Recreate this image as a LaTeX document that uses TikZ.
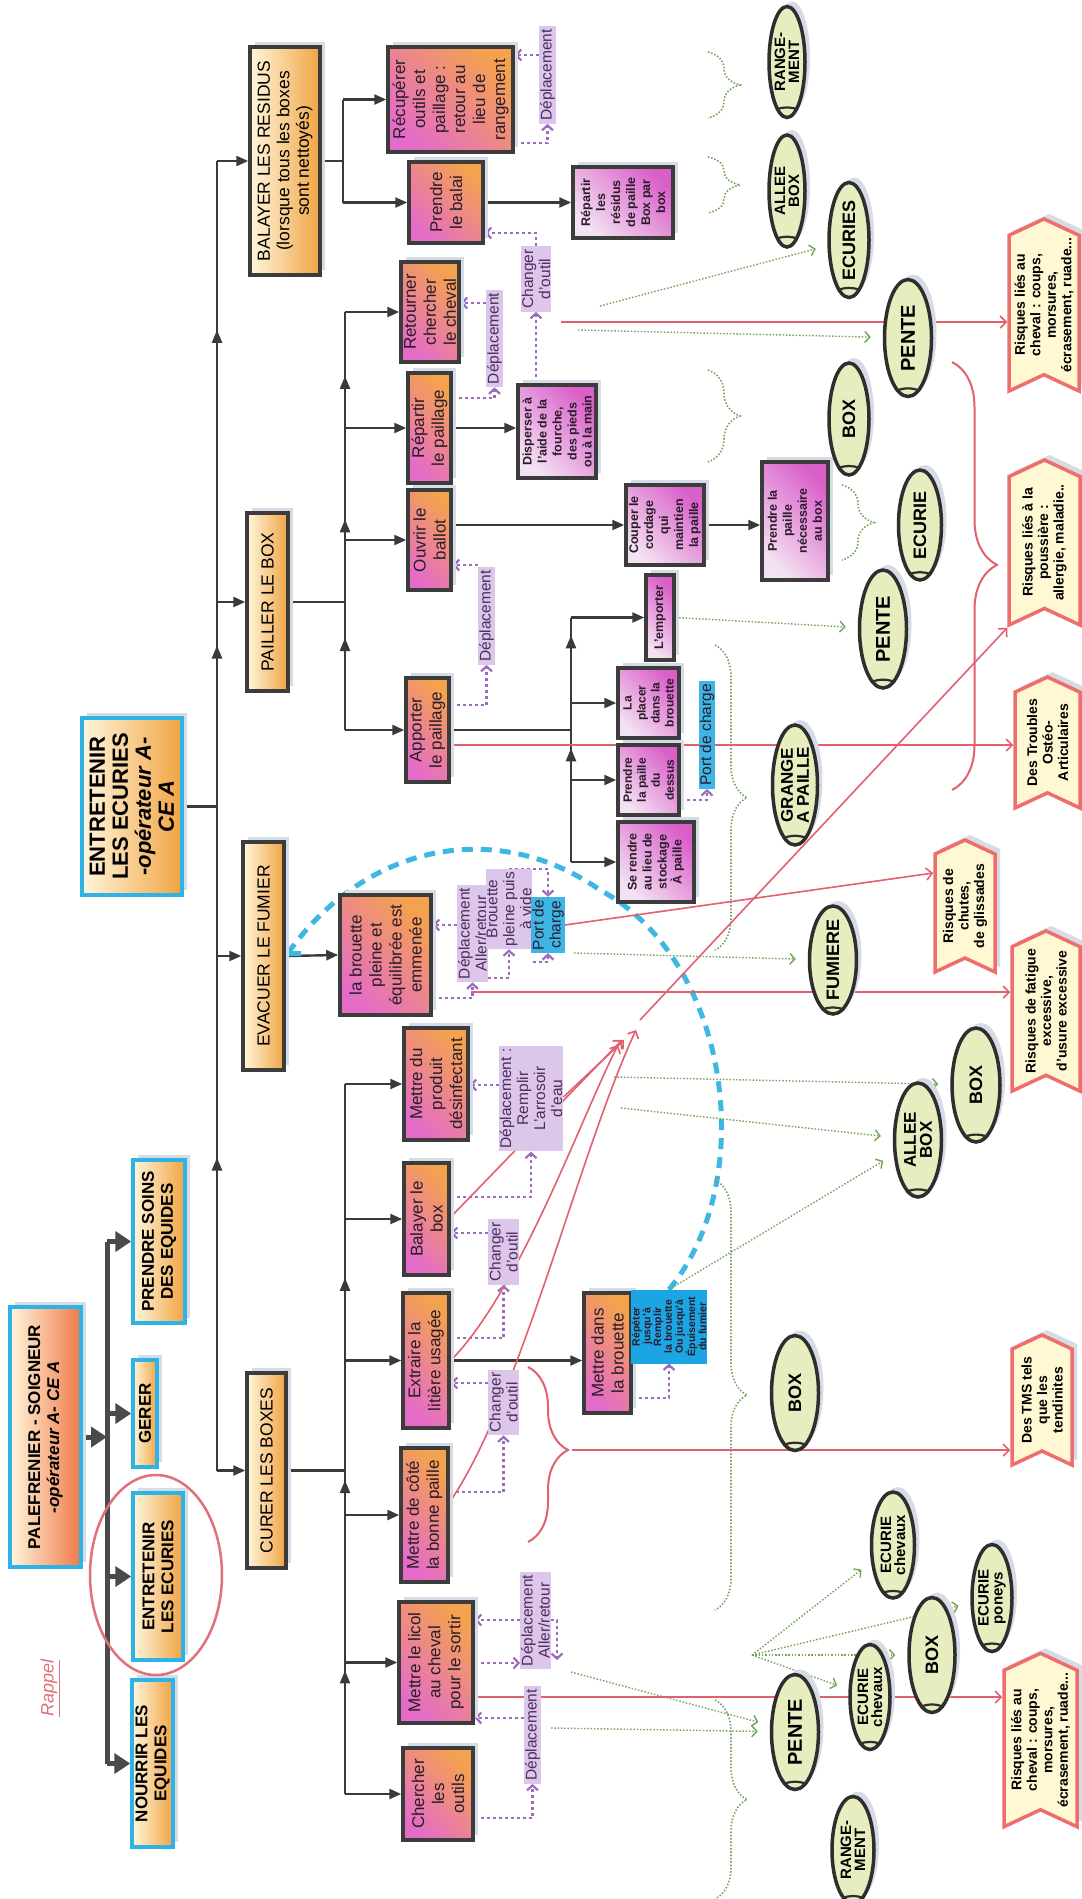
\documentclass[tikz,border=0pt]{standalone}
\usepackage{fontspec}
\setmainfont{Liberation Sans}
\usepackage{tikz}
\usetikzlibrary{arrows.meta, shapes.geometric, shapes.symbols, decorations.pathreplacing, decorations.markings, backgrounds, shadows}

\definecolor{linkcol}{HTML}{3A3A3A}
\definecolor{bigcol}{HTML}{4A4A4A}
\definecolor{cyanb}{HTML}{2FB3E6}
\definecolor{boxline}{HTML}{3C3C3C}
\definecolor{cream}{HTML}{FFF6DC}
\definecolor{orng}{HTML}{F0A443}
\definecolor{salm}{HTML}{F07A48}
\definecolor{pinkc}{HTML}{E46CC8}
\definecolor{orng2}{HTML}{F4A24E}
\definecolor{lav}{HTML}{F3E2F2}
\definecolor{mag}{HTML}{D95FC9}
\definecolor{textc}{HTML}{2A1C2A}
\definecolor{lblfill}{HTML}{DCC7EA}
\definecolor{lbltext}{HTML}{4B2C5E}
\definecolor{deplc}{HTML}{9A6BBE}
\definecolor{locc}{HTML}{72A45C}
\definecolor{riskc}{HTML}{E3606E}
\definecolor{hazfill}{HTML}{FFF8D2}
\definecolor{hazline}{HTML}{EE6E6E}
\definecolor{spotfill}{HTML}{E8EDBF}
\definecolor{spotline}{HTML}{2E2E2E}
\definecolor{portc}{HTML}{3DB6E6}
\definecolor{repc}{HTML}{1CA5E3}
\definecolor{arcc}{HTML}{3DB8E2}
\definecolor{rappelc}{HTML}{E0707A}
\definecolor{shadowc}{HTML}{D6DCE6}

\tikzset{
  link/.style={draw=linkcol, line width=2.4pt},
  linkarr/.style={link, -{Triangle[length=12pt,width=10pt]}},
  tipat/.style={postaction={decorate,decoration={markings,mark=at position #1 with {\arrow[linkcol]{Triangle[length=13pt,width=10pt]}}}}},
  bigline/.style={draw=bigcol, line width=5pt},
  bigarr/.style={bigline, -{Triangle[length=16pt,width=20pt]}},
  shade box/.style={drop shadow={shadow xshift=5pt, shadow yshift=5pt, fill=shadowc, opacity=1}},
  basebox/.style={rectangle, rotate=90, align=center, inner sep=2pt, line width=3.5pt},
  lvone/.style={basebox, shade box, draw=cyanb, left color=cream, right color=orng, font=\fontsize{17}{19}\selectfont\bfseries},
  lvtwo/.style={basebox, shade box, draw=boxline, left color=cream, right color=orng, font=\fontsize{17.5}{19.5}\selectfont},
  lvthree/.style={basebox, shade box, draw=boxline, left color=pinkc, right color=orng2, shading angle=135, font=\fontsize{17}{20}\selectfont, text=textc},
  lvfour/.style={basebox, shade box, draw=boxline, left color=lav, right color=mag, shading angle=135, font=\fontsize{12.5}{15}\selectfont\bfseries, text=textc},
  lbl/.style={rotate=90, align=center, fill=lblfill, text=lbltext, inner xsep=3pt, inner ysep=1pt, font=\fontsize{15.5}{17}\selectfont},
  portlbl/.style={lbl, fill=portc, text=textc},
  spot/.style={ellipse, rotate=90, shade box, draw=spotline, line width=3.5pt, fill=spotfill, inner sep=-8pt, align=center, font=\fontsize{15}{14}\selectfont\bfseries},
  hazard/.style={signal, signal to=east, signal from=west, signal pointer angle=130, rotate=90, shade box, draw=hazline, line width=3.5pt, fill=hazfill, align=center, inner sep=2pt, font=\fontsize{14}{15.5}\selectfont\bfseries},
  depl/.style={draw=deplc, line width=2.2pt, dash pattern=on 3pt off 3pt, -{Straight Barb[length=5pt,width=11pt]}},
  loc/.style={draw=locc, line width=1.4pt, dash pattern=on 1.5pt off 1.8pt, -{Straight Barb[length=5pt,width=11pt]}, shorten >=12pt},
  locbrace/.style={draw=locc, line width=1.6pt, dash pattern=on 1.5pt off 1.8pt, decorate, decoration={brace, amplitude=32pt, aspect=#1}},
  risk/.style={draw=riskc, line width=1.6pt, -{Straight Barb[length=6pt,width=12pt]}},
  riskbrace/.style={draw=riskc, line width=2pt, decorate, decoration={brace, amplitude=#1}},
  backarc/.style={draw=arcc, line width=5pt, dash pattern=on 11pt off 8pt, -{Straight Barb[length=8pt,width=22pt]}},
}

\begin{document}
\begin{tikzpicture}[x=1pt, y=-1pt]
\useasboundingbox (0,0) rectangle (1082,1899);

% job and main task
\node[lvone, minimum width=260, minimum height=71, left color=cream, right color=salm] (palef) at (45.5,1437) {PALEFRENIER - SOIGNEUR\\\textit{-opérateur A- CE A}};
\node[rotate=90, text=rappelc, font=\fontsize{18}{18}\selectfont\itshape] (rappel) at (50,1688) {\underline{Rappel}};
\node[lvone, minimum width=167, minimum height=41] (nourrir) at (152.5,1763.5) {NOURRIR LES\\EQUIDES};
\node[lvone, minimum width=167, minimum height=50] (entret) at (158,1576.5) {ENTRETENIR\\LES ECURIES};
\node[lvone, minimum width=107, minimum height=24] (gerer) at (145,1413.5) {GERER};
\node[lvone, minimum width=163, minimum height=52] (soins) at (159,1241.5) {PRENDRE SOINS\\DES EQUIDES};
\node[ellipse, draw=rappelc, line width=2.5pt, minimum width=132, minimum height=200] (focus) at (156,1575) {};

\node[lvone, minimum width=177, minimum height=100, font=\fontsize{22}{23}\selectfont\bfseries] (root) at (132,806.5) {ENTRETENIR\\LES ECURIES\\\textit{-opérateur A-}\\\textit{CE A}};

% sub tasks
\node[lvtwo, minimum width=228, minimum height=70] (balayer) at (285,161) {BALAYER LES RESIDUS\\(lorsque tous les boxes\\sont nettoyés)};
\node[lvtwo, minimum width=178, minimum height=41] (pailler) at (267.5,602) {PAILLER LE BOX};
\node[lvtwo, minimum width=228, minimum height=41] (evacuer) at (263.5,956) {EVACUER LE FUMIER};
\node[lvtwo, minimum width=195, minimum height=39] (curer) at (266.5,1470.5) {CURER LES BOXES};

% operations
\node[lvthree, minimum width=105, minimum height=125] (recup) at (450.5,99.5) {Récupérer\\outils et\\paillage :\\retour au\\lieu de\\rangement};
\node[lvthree, minimum width=81, minimum height=74] (balai) at (446,202.5) {Prendre\\le balai};
\node[lvthree, minimum width=100, minimum height=58] (retourner) at (430,312) {Retourner\\chercher\\le cheval};
\node[lvthree, minimum width=110, minimum height=43] (repartir) at (429.5,428) {Répartir\\le paillage};
\node[lvthree, minimum width=100, minimum height=43] (ouvrir) at (429.5,540) {Ouvrir le\\ballot};
\node[lvthree, minimum width=104, minimum height=43] (apporter) at (427.5,730) {Apporter\\le paillage};
\node[lvthree, minimum width=120, minimum height=91] (brouette) at (385.5,955) {la brouette\\pleine et\\équilibrée est\\emmenée};
\node[lvthree, minimum width=112, minimum height=64] (produit) at (436,1084) {Mettre du\\produit\\désinfectant};
\node[lvthree, minimum width=112, minimum height=45] (balbox) at (426.5,1219) {Balayer le\\box};
\node[lvthree, minimum width=135, minimum height=46] (extraire) at (426,1360.5) {Extraire la\\litière usagée};
\node[lvthree, minimum width=134, minimum height=47] (cote) at (424.5,1515) {Mettre de côté\\la bonne paille};
\node[lvthree, minimum width=121, minimum height=74] (licol) at (436,1662.5) {Mettre le licol\\au cheval\\pour le sortir};
\node[lvthree, minimum width=92, minimum height=70] (chercher) at (438,1794) {Chercher\\les\\outils};
\node[lvthree, minimum width=120, minimum height=47] (dansbrouette) at (607.5,1353) {Mettre dans\\la brouette};

% details
\node[lvfour, minimum width=71, minimum height=100] (residus) at (623,202.5) {Répartir\\les\\résidus\\de paille\\Box par\\box};
\node[lvfour, minimum width=93, minimum height=78] (disperser) at (557,431.5) {Disperser à\\l'aide de la\\fourche,\\des pieds\\ou à la main};
\node[lvfour, minimum width=80, minimum height=78] (couper) at (665,525) {Couper le\\cordage\\qui\\maintien\\la paille};
\node[lvfour, minimum width=118, minimum height=66] (paillenec) at (795,521) {Prendre la\\paille\\nécessaire\\au box};
\node[lvfour, minimum width=85, minimum height=28] (emporter) at (660,617.5) {L'emporter};
\node[lvfour, minimum width=70, minimum height=61, font=\fontsize{12}{14}\selectfont\bfseries] (placer) at (648.5,703) {La\\placer\\dans la\\brouette};
\node[lvfour, minimum width=70, minimum height=61, font=\fontsize{12}{14}\selectfont\bfseries] (dessus) at (648.5,780) {Prendre\\la paille\\du\\dessus};
\node[lvfour, minimum width=80, minimum height=76] (serendre) at (656,862) {Se rendre\\au lieu de\\stockage\\À paille};
\node[basebox, line width=0pt, fill=repc, text=textc, minimum width=74, minimum height=76, inner sep=1pt, font=\fontsize{10.5}{10.8}\selectfont\bfseries] (repeter) at (669,1326.5) {Répéter\\jusqu'à\\Remplir\\la brouette\\Ou jusqu'à\\Épuisement\\du fumier};

% moves
\node[lbl] (dep1) at (547.5,75) {Déplacement};
\node[lbl] (dep2) at (494.5,338.5) {Déplacement};
\node[lbl] (chg1) at (536,279) {Changer\\d'outil};
\node[lbl] (dep3) at (486.5,616) {Déplacement};
\node[portlbl] (port2) at (707,735) {Port de charge};
\node[lbl] (depar2) at (472.5,933.5) {Déplacement\\Aller/retour};
\node[lbl] (pleine) at (509,909) {Brouette\\pleine puis\\à vide};
\node[portlbl] (port1) at (548,925) {Port de\\charge};
\node[lbl] (remplir) at (531,1098.5) {Déplacement :\\Remplir\\L'arrosoir\\d'eau};
\node[lbl] (chg3) at (503.5,1252) {Changer\\d'outil};
\node[lbl] (chg2) at (503.5,1402.5) {Changer\\d'outil};
\node[lbl] (depar) at (535.5,1620.5) {Déplacement\\Aller/retour};
\node[lbl] (dep4) at (532.5,1735) {Déplacement};

% places
\node[spot, minimum width=111, minimum height=36] (erang1) at (787,62) {RANGE-\\MENT};
\node[spot, minimum width=112, minimum height=36] (eallee1) at (787,191) {ALLEE\\BOX};
\node[spot, minimum width=115, minimum height=40, font=\fontsize{18}{18}\selectfont\bfseries] (eecuries) at (849,240) {ECURIES};
\node[spot, minimum width=117, minimum height=47, font=\fontsize{20}{20}\selectfont\bfseries] (epente1) at (908,338) {PENTE};
\node[spot, minimum width=112, minimum height=40, font=\fontsize{18}{18}\selectfont\bfseries] (ebox1) at (849,419) {BOX};
\node[spot, minimum width=110, minimum height=43, font=\fontsize{18}{18}\selectfont\bfseries] (eecurie) at (920,525) {ECURIE};
\node[spot, minimum width=118, minimum height=47, font=\fontsize{20}{20}\selectfont\bfseries] (epente2) at (883,629) {PENTE};
\node[spot, minimum width=120, minimum height=45, font=\fontsize{17}{16}\selectfont\bfseries] (egrange) at (795,785) {GRANGE\\A PAILLE};
\node[spot, minimum width=108, minimum height=47, font=\fontsize{18}{18}\selectfont\bfseries] (efumiere) at (833,960) {FUMIERE};
\node[spot, minimum width=114, minimum height=48, font=\fontsize{18}{18}\selectfont\bfseries] (ebox2) at (976,1085) {BOX};
\node[spot, minimum width=114, minimum height=47, font=\fontsize{17}{16}\selectfont\bfseries] (eallee2) at (918,1140) {ALLEE\\BOX};
\node[spot, minimum width=115, minimum height=47, font=\fontsize{18}{18}\selectfont\bfseries] (ebox3) at (795,1393) {BOX};
\node[spot, minimum width=115, minimum height=47, font=\fontsize{20}{20}\selectfont\bfseries] (epente3) at (795,1732) {PENTE};
\node[spot, minimum width=106, minimum height=43] (echev1) at (893,1545) {ECURIE\\chevaux};
\node[spot, minimum width=115, minimum height=46, font=\fontsize{18}{18}\selectfont\bfseries] (ebox4) at (932,1655) {BOX};
\node[spot, minimum width=107, minimum height=40] (eponey) at (992,1598) {ECURIE\\poneys};
\node[spot, minimum width=105, minimum height=40] (echev2) at (870,1697) {ECURIE\\chevaux};
\node[spot, minimum width=107, minimum height=42] (erang2) at (853,1850) {RANGE-\\MENT};
\foreach \e in {erang1,eallee1,eecuries,epente1,ebox1,eecurie,epente2,egrange,efumiere,ebox2,eallee2,ebox3,epente3,echev1,ebox4,eponey,echev2,erang2}
  \draw[spotline, line width=2.2pt] (\e.167) to[bend left=20] (\e.193);

% risks
\node[hazard, minimum width=170, minimum height=70] (cheval1) at (1044,305) {Risques liés au\\cheval : coups,\\morsures,\\écrasement, ruade...};
\node[hazard, minimum width=165, minimum height=71] (poussiere) at (1044.5,542.5) {Risques liés à la\\poussière :\\allergie, maladie..};
\node[hazard, minimum width=131, minimum height=65] (troubles) at (1047.5,742.5) {Des Troubles\\Ostéo-\\Articulaires};
\node[hazard, minimum width=132, minimum height=60] (chutes) at (965,906) {Risques de\\chutes,\\de glissades};
\node[hazard, minimum width=152, minimum height=68] (fatigue) at (1046,1011) {Risques de fatigue\\excessive,\\d'usure excessive};
\node[hazard, minimum width=130, minimum height=60] (tms) at (1042,1400) {Des TMS tels\\que les\\tendinites};
\node[hazard, minimum width=170, minimum height=73] (cheval2) at (1040.5,1740) {Risques liés au\\cheval : coups,\\morsures,\\écrasement, ruade...};

\coordinate (spine) at (107,1437);
\coordinate (trunk) at (217,0);
\coordinate (bv) at (343,0);
\coordinate (pv) at (345,0);
\coordinate (cv) at (345,0);
\coordinate (av) at (571,0);
\coordinate (rA) at (561,322);
\coordinate (rC) at (471,992);
\coordinate (conv) at (640,1020);
\coordinate (tmstip) at (572,1450);
\coordinate (gA) at (600,306);
\coordinate (gB) at (578,330);
\coordinate (gD) at (574,953);
\coordinate (gE) at (614,1077);
\coordinate (gF) at (621,1108);
\coordinate (gH) at (551,1728);
\coordinate (gI) at (571,1672);
\coordinate (fan) at (752,1655);
\coordinate (loopx) at (557,0);

\begin{scope}[on background layer]
\fill[white] (0,0) rectangle (1082,1899);
% tree
\draw[bigarr] (palef.south) -- (spine);
\draw[bigline] (spine |- soins.north) -- (spine |- nourrir.north);
\foreach \n in {soins,gerer,entret,nourrir}
  \draw[bigarr] (spine |- \n.north) -- (\n.north);
\draw[link] (root.south) -- (root.south -| trunk);
\draw[link, tipat=0.239, tipat=0.63, tipat=0.871] (curer.north -| trunk) -- (balayer.north -| trunk);
\foreach \n in {balayer,pailler,evacuer,curer}
  \draw[linkarr] (\n.north -| trunk) -- (\n.north);
\draw[link] (balayer.south) -- (balayer.south -| bv);
\draw[link] (balai.north -| bv) -- (recup.north -| bv);
\foreach \n in {recup,balai}
  \draw[linkarr] (\n.north -| bv) -- (\n.north);
\draw[link] (pailler.south) -- (pailler.south -| pv);
\draw[link, tipat=0.22, tipat=0.504, tipat=0.847] (apporter.north -| pv) -- (retourner.north -| pv);
\foreach \n in {retourner,repartir,ouvrir,apporter}
  \draw[linkarr] (\n.north -| pv) -- (\n.north);
\draw[linkarr] (evacuer.south) -- (brouette.north);
\draw[link] (curer.south) -- (curer.south -| cv);
\draw[link, tipat=0.174, tipat=0.442, tipat=0.727] (chercher.north -| cv) -- (produit.north -| cv);
\foreach \n in {produit,balbox,extraire,cote,licol,chercher}
  \draw[linkarr] (\n.north -| cv) -- (\n.north);
\draw[linkarr] (balai.south) -- (residus.north);
\draw[linkarr] (repartir.south) -- (repartir.south -| disperser.north);
\draw[linkarr] (ouvrir.south |- couper.north) -- (couper.north);
\draw[linkarr] (couper.south) -- (couper.south -| paillenec.north);
\draw[link] (apporter.south) -- (apporter.south -| av);
\draw[link, tipat=0.465, tipat=0.927] (serendre.north -| av) -- (emporter.north -| av);
\foreach \n in {emporter,placer,dessus,serendre}
  \draw[linkarr] (\n.north -| av) -- (\n.north);
\draw[linkarr] (extraire.south) -- (extraire.south -| dansbrouette.north);

% moves
\draw[depl] (recup.south |- 0,143) -| (dep1.west);
\draw[depl] (dep1.north |- 0,55) -- (recup.south |- 0,55);
\draw[depl] (repartir.south |- 0,398) -| (dep2.west);
\draw[depl] (dep2.north |- 0,303) -- (retourner.south |- 0,303);
\draw[depl] (chg1.west |- disperser.east) -- (chg1.west);
\draw[depl] (chg1.east) |- (balai.south |- 0,233);
\draw[depl] (apporter.south |- 0,705) -| (dep3.west);
\draw[depl] (dep3.north |- 0,565) -- (ouvrir.south |- 0,565);
\draw[depl] (dessus.south |- 0,800) -| (port2.west);
\draw[depl] (brouette.south |- 0,998) -| (depar2.west);
\draw[depl] (depar2.north |- 0,925) -- (brouette.south |- 0,925);
\draw[depl] (depar2.south |- 0,978) -| (pleine.west);
\draw[depl] (pleine.south |- 0,962) -| (port1.west);
\draw[depl] (pleine.east) -| (port1.east);
\draw[depl] (balbox.south |- 0,1197) -| (remplir.west);
\draw[depl] (remplir.north |- 0,1085) -- (produit.south |- 0,1085);
\draw[depl] (extraire.south |- 0,1338) -| (chg3.west);
\draw[depl] (chg3.north |- 0,1233) -- (balbox.south |- 0,1233);
\draw[depl] (cote.south |- 0,1492) -| (chg2.west);
\draw[depl] (chg2.north |- 0,1383) -- (extraire.south |- 0,1383);
\draw[depl] (licol.south |- 0,1663) -- (depar.north |- 0,1663);
\draw[depl] (depar.north |- 0,1620) -- (licol.south |- 0,1620);
\draw[depl] (depar.south |- 0,1620) -| (loopx |- 0,1660);
\draw[depl] (chercher.south |- 0,1818) -| (dep4.west);
\draw[depl] (dep4.north |- 0,1718) -- (licol.south |- 0,1718);
\draw[depl] (dansbrouette.south |- 0,1398) -| (repeter.west);

% back to the manure
\draw[backarc] (repeter.east) .. controls (760,1180) and (730,960) .. (600,890) .. controls (500,820) and (370,840) .. (evacuer.south);

% places
\draw[loc] (gA) -- (eecuries);
\draw[loc] (gB) -- (epente1);
\draw[loc] (emporter.south) -- (epente2);
\draw[loc] (gD) -- (efumiere);
\draw[loc] (gE) -- (ebox2);
\draw[loc] (gF) -- (eallee2);
\draw[loc] (repeter.east) -- (eallee2);
\draw[loc] (gH) -- (epente3);
\draw[loc] (gI) -- (epente3);
\foreach \e in {echev1,ebox4,eponey,echev2}
  \draw[loc] (fan) -- (\e);
\draw[locbrace=0.5] (708,52) -- (708,118);
\draw[locbrace=0.5] (708,157) -- (708,213);
\draw[locbrace=0.5] (708,370) -- (708,462);
\draw[locbrace=0.5] (842,485) -- (842,560);
\draw[locbrace=0.5] (715,645) -- (715,950);
\draw[locbrace=0.5] (715,1180) -- (715,1610);
\draw[locbrace=0.5] (715,1700) -- (715,1899);

% risks
\draw[risk] (rA) -- (cheval1.north |- rA);
\draw[risk] (apporter.south |- 0,745) -- (troubles.north |- 0,745);
\draw[risk] (rC) -- (fatigue.north |- rC);
\draw[risk] (port1.south) -- (chutes.north |- 0,873);
\draw[risk] (licol.south |- 0,1697) -- (cheval2.north |- 0,1697);
\draw[risk] (extraire.south) .. controls (520,1290) and (580,1120) .. (618,1045);
\draw[risk] (cote.south |- 0,1502) .. controls (520,1400) and (580,1150) .. (636,1030);
\draw[risk] (balbox.south |- 0,1217) -- (622,1040);
\draw[risk] (remplir.south |- 0,1097) -- (624,1040);
\draw[risk] (conv) -- (poussiere.north west);
\draw[riskbrace=45pt, decoration={aspect=0.474}] (952,362) -- (952,790);
\draw[riskbrace=40pt, decoration={aspect=0.474}] (528,1367) -- (528,1542);
\draw[risk] (tmstip) -- (tms.north |- tmstip);
\end{scope}
\end{tikzpicture}
\end{document}
